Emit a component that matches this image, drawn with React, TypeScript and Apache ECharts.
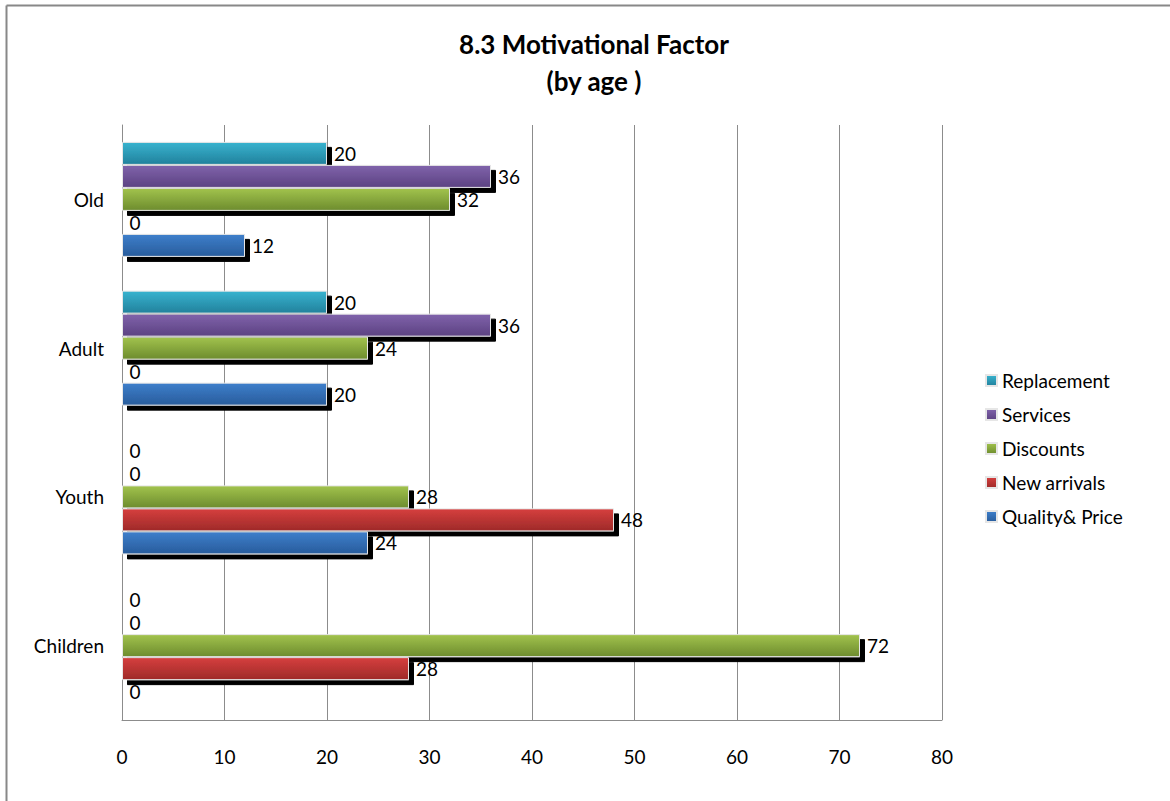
import React, { useEffect, useRef } from "react";
import * as echarts from "echarts";

const categories = ["Children", "Youth", "Adult", "Old"];
const seriesNames = ["Replacement", "Services", "Discounts", "New arrivals", "Quality& Price"];
const replacement = [0, 0, 20, 20];
const services = [0, 0, 36, 36];
const discounts = [72, 28, 24, 32];
const newArrivals = [28, 48, 0, 0];
const qualityPrice = [0, 24, 20, 12];
const xTicks = { min: 0, max: 80, interval: 10 };

const seriesValues = [replacement, services, discounts, newArrivals, qualityPrice];
const gradients: [string, string][] = [
  ["#38B3CF", "#22819C"],
  ["#8063AB", "#5C4282"],
  ["#A2C34D", "#6D8C2E"],
  ["#D63F3E", "#9E2A29"],
  ["#3E7FCB", "#285C9C"],
];

const FONT = "Lato";

export default function App() {
  const ref = useRef<HTMLDivElement>(null);
  useEffect(() => {
    if (!ref.current) return;
    const chart = echarts.init(ref.current, null, { renderer: "svg" });
    const series = seriesNames.map((name, i) => ({
      name,
      type: "bar",
      data: seriesValues[i],
      barWidth: 23,
      barGap: "0%",
      itemStyle: {
        color: new echarts.graphic.LinearGradient(0, 0, 0, 1, [
          { offset: 0, color: gradients[i][0] },
          { offset: 1, color: gradients[i][1] },
        ]),
        borderColor: "#e6e6e6",
        borderWidth: 1,
        shadowColor: "#000",
        shadowBlur: 0,
        shadowOffsetX: 5,
        shadowOffsetY: 5,
      },
      label: {
        show: true,
        position: "right",
        distance: 7,
        color: "#000",
        fontSize: 19,
        fontFamily: FONT,
      },
    }));
    chart.setOption({
      animation: false,
      backgroundColor: "#fff",
      title: {
        text: "8.3 Motivational Factor\n(by age )",
        left: 589,
        top: 20,
        textAlign: "center",
        textStyle: {
          fontFamily: FONT,
          fontWeight: "bold",
          fontSize: 26,
          lineHeight: 37,
          color: "#000",
        },
      },
      legend: {
        orient: "vertical",
        left: 980,
        top: 366,
        itemWidth: 11,
        itemHeight: 11,
        itemGap: 15,
        icon: "rect",
        data: seriesNames,
        textStyle: { fontFamily: FONT, fontSize: 19, lineHeight: 18, color: "#000" },
      },
      grid: { left: 122, right: 228, top: 125, bottom: 81 },
      xAxis: {
        type: "value",
        min: xTicks.min,
        max: xTicks.max,
        interval: xTicks.interval,
        axisLine: { show: true, lineStyle: { color: "#8c8c8c", width: 1 } },
        axisTick: { show: false },
        splitLine: { show: true, lineStyle: { color: "#8c8c8c", width: 1 } },
        axisLabel: { margin: 27, color: "#000", fontSize: 19, fontFamily: FONT },
      },
      yAxis: {
        type: "category",
        data: categories,
        axisLine: { show: true, lineStyle: { color: "#8c8c8c", width: 1 } },
        axisTick: { show: false },
        axisLabel: { margin: 18, color: "#000", fontSize: 19, fontFamily: FONT },
      },
      graphic: [
        { type: "line", shape: { x1: 6.5, y1: 5.5, x2: 1170, y2: 5.5 }, style: { stroke: "#888", lineWidth: 2 } },
        { type: "line", shape: { x1: 6.5, y1: 5.5, x2: 6.5, y2: 801 }, style: { stroke: "#888", lineWidth: 2 } },
      ],
      series,
    });
    return () => chart.dispose();
  }, []);
  return (
    <div
      ref={ref}
      style={{ position: "fixed", left: 0, top: 0, width: 1170, height: 801, background: "#fff" }}
    />
  );
}
